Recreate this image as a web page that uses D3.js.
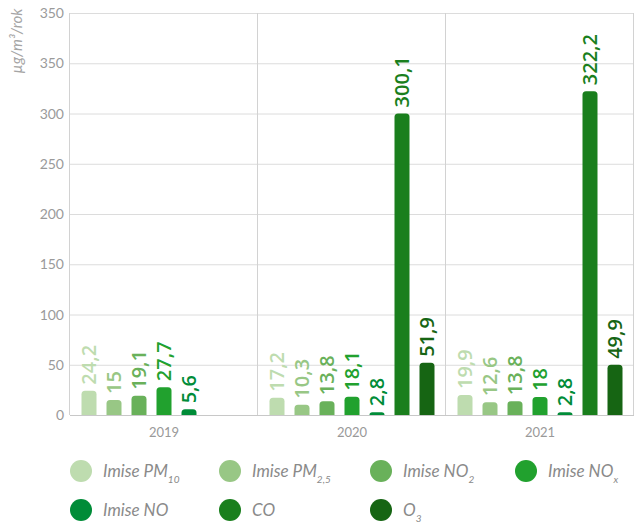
<!DOCTYPE html>
<html>
<head>
<meta charset="utf-8">
<script src="https://cdn.jsdelivr.net/npm/d3@7"></script>
<style>
  body { margin: 0; background: #fff; }
  svg { display: block; }
</style>
</head>
<body>
<div class="chart"></div>
<script>
// data
const years = ['2019', '2020', '2021'];
const seriesKeys = ['pm10', 'pm25', 'no2', 'nox', 'no', 'co', 'o3'];
const legendMain = ['Imise PM', 'Imise PM', 'Imise NO', 'Imise NO', 'Imise NO', 'CO', 'O'];
const legendSub = ['10', '2,5', '2', 'x', '', '', '3'];
const colors = ['#bedcaf', '#98c785', '#69b15a', '#21a12e', '#008c38', '#1a7f1d', '#166513'];

const pm10 = [24.2, 17.2, 19.9];
const pm25 = [15, 10.3, 12.6];
const no2 = [19.1, 13.8, 13.8];
const nox = [27.7, 18.1, 18];
const no = [5.6, 2.8, 2.8];
const co = [null, 300.1, 322.2];
const o3 = [null, 51.9, 49.9];

const tickValues = [0, 50, 100, 150, 200, 250, 300, 350, 400];
const tickLabels = ['0', '50', '100', '150', '200', '250', '300', '350', '350'];
const unitLabel = 'µg/m³/rok';

const seriesValues = [pm10, pm25, no2, nox, no, co, o3];

const width = 636, height = 524;
const margin = {left: 70, right: 2, top: 13, bottom: 109};

const svg = d3.select('.chart').append('svg')
    .attr('width', width).attr('height', height);

const x0 = d3.scaleBand()
    .domain(years)
    .range([margin.left, width - margin.right]);

const x1 = d3.scaleBand()
    .domain(seriesKeys)
    .range([0, x0.bandwidth()])
    .paddingInner(0.4)
    .paddingOuter(0.46);

const y = d3.scaleLinear()
    .domain([0, 400])
    .range([height - margin.bottom, margin.top]);

const fmt = d3.formatLocale({decimal: ',', thousands: ' ', grouping: [3], currency: ['', '']}).format(',~r');

// horizontal grid
svg.append('g')
    .selectAll('line')
    .data(tickValues)
    .join('line')
    .attr('x1', margin.left).attr('x2', width - margin.right)
    .attr('y1', d => y(d) + 0.5).attr('y2', d => y(d) + 0.5)
    .attr('stroke', (d) => d === 0 ? '#c8c8c8' : '#dcdcdc')
    .attr('stroke-width', 1);

// vertical group separators
const seps = years.map(d => x0(d)).concat([x0.range()[1]]);
svg.append('g')
    .selectAll('line')
    .data(seps)
    .join('line')
    .attr('x1', d => Math.round(d) - 0.5).attr('x2', d => Math.round(d) - 0.5)
    .attr('y1', y(400)).attr('y2', y(0))
    .attr('stroke', '#d2d2d2');

// y tick labels
svg.append('g')
    .selectAll('text')
    .data(tickValues)
    .join('text')
    .attr('x', margin.left - 6)
    .attr('y', d => y(d))
    .attr('dy', '0.36em')
    .attr('text-anchor', 'end')
    .attr('font-family', 'Lato, sans-serif')
    .attr('font-size', 14)
    .attr('fill', '#9a9a9a')
    .text((d, i) => tickLabels[i]);

// unit label
svg.append('text')
    .attr('transform', 'translate(22,41) rotate(-90)')
    .attr('text-anchor', 'middle')
    .attr('font-family', 'Lato, sans-serif')
    .attr('font-style', 'italic')
    .attr('font-size', 15)
    .attr('fill', '#a5a5a5')
    .text(unitLabel);

// x labels
svg.append('g')
    .selectAll('text')
    .data(years)
    .join('text')
    .attr('x', d => x0(d) + x0.bandwidth() / 2)
    .attr('y', y(0) + 22)
    .attr('text-anchor', 'middle')
    .attr('font-family', 'Lato, sans-serif')
    .attr('font-size', 13)
    .attr('fill', '#999')
    .text(d => d);

// bars
const rows = [];
years.forEach((yr, i) => {
    seriesKeys.forEach((k, j) => {
        const v = seriesValues[j][i];
        if (v !== null) rows.push({year: yr, key: k, value: v, color: colors[j]});
    });
});

function topRounded(x, yTop, w, yBase, r) {
    r = Math.min(r, (yBase - yTop), w / 2);
    return 'M' + x + ',' + yBase +
        'V' + (yTop + r) +
        'Q' + x + ',' + yTop + ' ' + (x + r) + ',' + yTop +
        'H' + (x + w - r) +
        'Q' + (x + w) + ',' + yTop + ' ' + (x + w) + ',' + (yTop + r) +
        'V' + yBase + 'Z';
}

const bars = svg.append('g')
    .selectAll('g')
    .data(rows)
    .join('g')
    .attr('transform', d => 'translate(' + (x0(d.year) + x1(d.key)) + ',0)');

bars.append('path')
    .attr('d', d => topRounded(0, y(d.value), x1.bandwidth(), y(0), 3.5))
    .attr('fill', d => d.color);

bars.append('text')
    .attr('transform', d => 'translate(' + (x1.bandwidth() / 2) + ',' + (y(d.value) - 6) + ') rotate(-90)')
    .attr('dy', '0.36em')
    .attr('font-family', '"Open Sans", sans-serif')
    .attr('font-weight', 600)
    .attr('font-size', 20)
    .attr('fill', d => d.color)
    .text(d => fmt(d.value));

// legend
const legCols = [81, 230, 381, 526];
const legRows = [471, 510];
const leg = svg.append('g')
    .selectAll('g')
    .data(seriesKeys)
    .join('g')
    .attr('transform', (d, i) => 'translate(' + legCols[i % 4] + ',' + legRows[Math.floor(i / 4)] + ')');

leg.append('circle')
    .attr('r', 11)
    .attr('fill', (d, i) => colors[i]);

const lt = leg.append('text')
    .attr('x', 22)
    .attr('dy', '0.36em')
    .attr('font-family', 'Lato, sans-serif')
    .attr('font-style', 'italic')
    .attr('font-size', 17)
    .attr('fill', '#8a8a8a');
lt.append('tspan').text((d, i) => legendMain[i]);
lt.append('tspan')
    .attr('font-size', 10)
    .attr('dy', 6)
    .text((d, i) => legendSub[i]);
</script>
</body>
</html>
